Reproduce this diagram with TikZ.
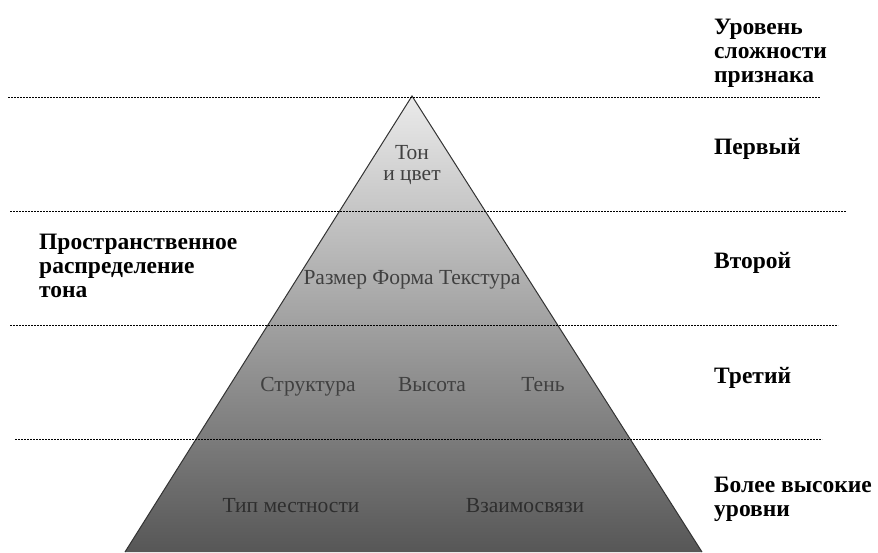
\documentclass[tikz,border=0pt]{standalone}
\usepackage{fontspec}
\setmainfont{Liberation Serif}

\begin{document}
\begin{tikzpicture}[x=1pt, y=-1pt,
    lvl/.style={font=\bfseries\fontsize{23.5}{24}\selectfont, align=left, anchor=base west, inner sep=0pt},
    feat/.style={font=\fontsize{21.5}{21}\selectfont, text=black!75, anchor=base, inner sep=0pt},
    sep/.style={draw=black, line width=0.7pt, dash pattern=on 2pt off 1pt}]
        \useasboundingbox (0,0) rectangle (878,552);
        % pyramid
        \coordinate (apex) at (412,96);
        \coordinate (bl) at (125,552);
        \coordinate (br) at (702,552);
        \shade[top color=black!8, bottom color=black!66] (apex) -- (bl) -- (br) -- cycle;
        \draw[black!80, line width=1pt] (bl) -- (apex) -- (br);
        % level borders
        \draw[sep] (8,97) -- (820,97);
        \draw[sep] (10,211) -- (846,211);
        \draw[sep] (10,325) -- (838,325);
        \draw[sep] (15,439) -- (822,439);
        % features (base = last line)
        \node[feat, align=center] (ton) at (412,180) {Тон\\и цвет};
        \node[feat] (razmer) at (412,284) {Размер Форма Текстура};
        \node[feat] (struct) at (308,391) {Структура};
        \node[feat] (vys) at (432,391) {Высота};
        \node[feat] (ten) at (543,391) {Тень};
        \node[feat, text=black!82] (tip) at (291,512) {Тип местности};
        \node[feat, text=black!82] (vzaim) at (525,512) {Взаимосвязи};
        % levels
        \node[lvl] (head) at (714,82) {Уровень\\сложности\\признака};
        \node[lvl] (first) at (714,154) {Первый};
        \node[lvl] (second) at (714,268) {Второй};
        \node[lvl] (third) at (714,383) {Третий};
        \node[lvl] (higher) at (714,516) {Более высокие\\уровни};
        \node[lvl] (spat) at (39,297) {Пространственное\\распределение\\тона};
      \end{tikzpicture}
\end{document}
